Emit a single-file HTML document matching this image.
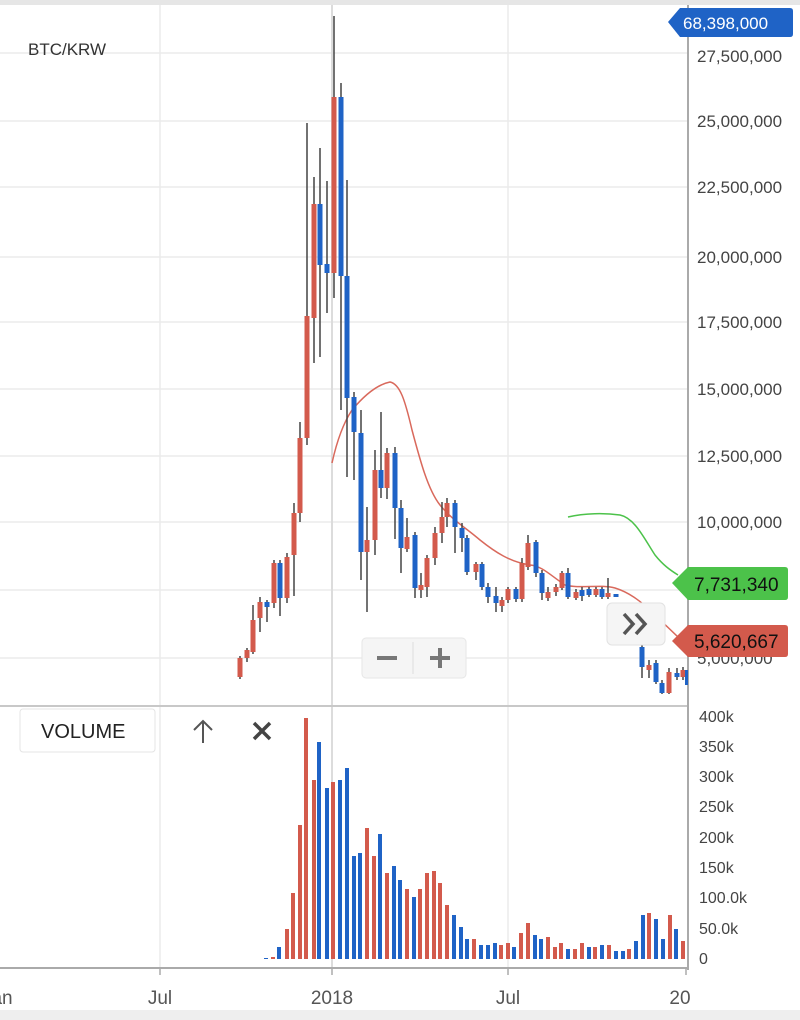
<!DOCTYPE html>
<html><head><meta charset="utf-8"><style>
html,body{margin:0;padding:0;background:#fff;}
body{width:800px;height:1020px;overflow:hidden;position:relative;font-family:"Liberation Sans",sans-serif;}
</style></head><body>
<svg width="800" height="1020" viewBox="0 0 800 1020" xmlns="http://www.w3.org/2000/svg" style="position:absolute;left:0;top:0">
<rect x="0" y="0" width="800" height="5" fill="#e6e6e6"/>
<rect x="0" y="1010" width="800" height="10" fill="#eeeeee"/>
<g stroke="#ebebeb" stroke-width="1.5">
<line x1="0" y1="53" x2="688" y2="53"/><line x1="0" y1="121" x2="688" y2="121"/><line x1="0" y1="187" x2="688" y2="187"/>
<line x1="0" y1="257" x2="688" y2="257"/><line x1="0" y1="322" x2="688" y2="322"/><line x1="0" y1="389" x2="688" y2="389"/>
<line x1="0" y1="456" x2="688" y2="456"/><line x1="0" y1="522" x2="688" y2="522"/><line x1="0" y1="590" x2="688" y2="590"/>
<line x1="0" y1="658" x2="688" y2="658"/>
<line x1="160" y1="5" x2="160" y2="968"/><line x1="508" y1="5" x2="508" y2="968"/>
</g>
<line x1="332" y1="5" x2="332" y2="968" stroke="#dcdcdc" stroke-width="2"/>
<line x1="0" y1="706" x2="688" y2="706" stroke="#c8c8c8" stroke-width="2"/>
<line x1="0" y1="968" x2="688" y2="968" stroke="#aaa" stroke-width="2"/>
<line x1="688" y1="5" x2="688" y2="970" stroke="#aaa" stroke-width="2"/>
<g stroke="#aaa" stroke-width="1.5">
<line x1="160" y1="968" x2="160" y2="975"/><line x1="332" y1="968" x2="332" y2="975"/><line x1="508" y1="968" x2="508" y2="975"/><line x1="686" y1="968" x2="686" y2="975"/>
</g>
<text x="28" y="55" font-size="17" fill="#333">BTC/KRW</text>
<g font-size="17" fill="#444">
<text x="697" y="62">27,500,000</text><text x="697" y="127">25,000,000</text><text x="697" y="193">22,500,000</text>
<text x="697" y="263">20,000,000</text><text x="697" y="328">17,500,000</text><text x="697" y="395">15,000,000</text>
<text x="697" y="462">12,500,000</text><text x="697" y="528">10,000,000</text><text x="697" y="664">5,000,000</text>
</g>
<g font-size="16" fill="#444">
<text x="699" y="722">400k</text><text x="699" y="752">350k</text><text x="699" y="782">300k</text><text x="699" y="812">250k</text>
<text x="699" y="843">200k</text><text x="699" y="873">150k</text><text x="699" y="903">100.0k</text><text x="699" y="934">50.0k</text><text x="699" y="964">0</text>
</g>
<g font-size="19" fill="#555" text-anchor="middle">
<text x="2" y="1004">an</text><text x="160" y="1004">Jul</text><text x="332" y="1004">2018</text><text x="508" y="1004">Jul</text><text x="680" y="1004">20</text>
</g>
<!-- MA lines -->
<path d="M332,463 C336,445 342,425 352,410 C362,398 375,385 390,382 C400,384 405,400 412,430 C420,460 428,490 440,505 C452,520 465,527 480,540 C495,552 510,562 530,565 C542,566 550,575 565,585 C580,589 600,584 615,588 C628,592 640,600 655,615 L678,637" fill="none" stroke="#d9695c" stroke-width="1.5"/>
<path d="M568,517 C585,513 605,513 620,515 C635,518 645,540 655,555 C663,565 670,570 678,575" fill="none" stroke="#4cc24a" stroke-width="1.5"/>
<!-- candles -->
<g id="c" stroke="#444" stroke-width="1.5"></g>
<g stroke="#444" stroke-width="1.5">
<line x1="240" y1="656" x2="240" y2="679"/><line x1="247" y1="648" x2="247" y2="662"/><line x1="253" y1="605" x2="253" y2="654"/>
<line x1="260" y1="597" x2="260" y2="632"/><line x1="267" y1="600" x2="267" y2="622"/><line x1="274" y1="560" x2="274" y2="608"/>
<line x1="280" y1="560" x2="280" y2="616"/><line x1="287" y1="553" x2="287" y2="603"/><line x1="294" y1="503" x2="294" y2="596"/>
<line x1="300" y1="422" x2="300" y2="522"/><line x1="307" y1="123" x2="307" y2="445"/><line x1="314" y1="177" x2="314" y2="363"/>
<line x1="320" y1="148" x2="320" y2="357"/><line x1="327" y1="181" x2="327" y2="313"/><line x1="334" y1="16" x2="334" y2="298"/>
<line x1="341" y1="83" x2="341" y2="410"/><line x1="347" y1="180" x2="347" y2="477"/><line x1="354" y1="392" x2="354" y2="480"/>
<line x1="361" y1="410" x2="361" y2="580"/><line x1="367" y1="507" x2="367" y2="612"/><line x1="375" y1="450" x2="375" y2="555"/>
<line x1="381" y1="412" x2="381" y2="498"/><line x1="387" y1="448" x2="387" y2="499"/><line x1="395" y1="447" x2="395" y2="539"/>
<line x1="401" y1="500" x2="401" y2="573"/><line x1="407" y1="518" x2="407" y2="552"/><line x1="415" y1="532" x2="415" y2="598"/>
<line x1="421" y1="573" x2="421" y2="598"/><line x1="427" y1="555" x2="427" y2="597"/><line x1="435" y1="527" x2="435" y2="565"/>
<line x1="442" y1="502" x2="442" y2="543"/><line x1="447" y1="498" x2="447" y2="527"/><line x1="455" y1="500" x2="455" y2="553"/>
<line x1="462" y1="523" x2="462" y2="552"/><line x1="467" y1="535" x2="467" y2="575"/><line x1="476" y1="562" x2="476" y2="580"/>
<line x1="482" y1="562" x2="482" y2="590"/><line x1="488" y1="583" x2="488" y2="603"/><line x1="496" y1="587" x2="496" y2="612"/>
<line x1="502" y1="597" x2="502" y2="612"/><line x1="508" y1="587" x2="508" y2="603"/><line x1="516" y1="587" x2="516" y2="602"/>
<line x1="522" y1="558" x2="522" y2="602"/><line x1="528" y1="535" x2="528" y2="570"/><line x1="536" y1="540" x2="536" y2="577"/>
<line x1="542" y1="570" x2="542" y2="600"/><line x1="548" y1="587" x2="548" y2="601"/><line x1="556" y1="584" x2="556" y2="596"/>
<line x1="562" y1="571" x2="562" y2="590"/><line x1="568" y1="568" x2="568" y2="599"/><line x1="576" y1="589" x2="576" y2="600"/>
<line x1="582" y1="587" x2="582" y2="601"/><line x1="589" y1="587" x2="589" y2="597"/><line x1="596" y1="587" x2="596" y2="597"/>
<line x1="602" y1="587" x2="602" y2="599"/><line x1="608" y1="578" x2="608" y2="599"/>
<line x1="642" y1="640" x2="642" y2="678"/><line x1="649" y1="660" x2="649" y2="678"/><line x1="656" y1="660" x2="656" y2="684"/>
<line x1="662" y1="680" x2="662" y2="694"/><line x1="669" y1="668" x2="669" y2="694"/><line x1="677" y1="668" x2="677" y2="680"/>
<line x1="683" y1="667" x2="683" y2="680"/>
</g>
<g fill="#d35a4c">
<rect x="237.5" y="658" width="5" height="19"/><rect x="244.5" y="650" width="5" height="8"/><rect x="250.5" y="620" width="5" height="32"/>
<rect x="257.5" y="602" width="5" height="16"/><rect x="271.5" y="563" width="5" height="40"/><rect x="284.5" y="557" width="5" height="41"/>
<rect x="291.5" y="513" width="5" height="42"/><rect x="297.5" y="438" width="5" height="75"/><rect x="304.5" y="316" width="5" height="122"/>
<rect x="311.5" y="204" width="5" height="114"/><rect x="331.5" y="97" width="5" height="176"/><rect x="364.5" y="540" width="5" height="12"/>
<rect x="372.5" y="470" width="5" height="70"/><rect x="384.5" y="453" width="5" height="35"/><rect x="404.5" y="537" width="5" height="12"/>
<rect x="418.5" y="585" width="5" height="5"/><rect x="424.5" y="558" width="5" height="29"/><rect x="432.5" y="533" width="5" height="25"/>
<rect x="439.5" y="517" width="5" height="16"/><rect x="444.5" y="503" width="5" height="14"/><rect x="473.5" y="564" width="5" height="8"/>
<rect x="499.5" y="600" width="5" height="6"/><rect x="505.5" y="589" width="5" height="11"/><rect x="519.5" y="563" width="5" height="36"/>
<rect x="525.5" y="543" width="5" height="24"/><rect x="545.5" y="592" width="5" height="6"/><rect x="553.5" y="587" width="5" height="5"/>
<rect x="559.5" y="573" width="5" height="15"/><rect x="573.5" y="592" width="5" height="6"/><rect x="593.5" y="589" width="5" height="6"/>
<rect x="605.5" y="593" width="5" height="4"/><rect x="646.5" y="665" width="5" height="5"/><rect x="666.5" y="672" width="5" height="21"/>
<rect x="680.5" y="670" width="5" height="7"/>
</g>
<g fill="#1f63c6">
<rect x="264.5" y="602" width="5" height="5"/><rect x="277.5" y="563" width="5" height="35"/><rect x="317.5" y="204" width="5" height="61"/>
<rect x="324.5" y="264" width="5" height="9"/><rect x="338.5" y="97" width="5" height="179"/><rect x="344.5" y="276" width="5" height="122"/>
<rect x="351.5" y="397" width="5" height="35"/><rect x="358.5" y="433" width="5" height="119"/><rect x="378.5" y="470" width="5" height="18"/>
<rect x="392.5" y="453" width="5" height="55"/><rect x="398.5" y="508" width="5" height="40"/><rect x="412.5" y="535" width="5" height="53"/>
<rect x="452.5" y="503" width="5" height="24"/><rect x="459.5" y="528" width="5" height="10"/><rect x="464.5" y="538" width="5" height="34"/>
<rect x="479.5" y="564" width="5" height="23"/><rect x="485.5" y="587" width="5" height="10"/><rect x="493.5" y="596" width="5" height="7"/>
<rect x="513.5" y="589" width="5" height="10"/><rect x="533.5" y="542" width="5" height="31"/><rect x="539.5" y="573" width="5" height="20"/>
<rect x="565.5" y="573" width="5" height="24"/><rect x="579.5" y="590" width="5" height="6"/><rect x="586.5" y="589" width="5" height="6"/>
<rect x="599.5" y="589" width="5" height="8"/><rect x="613.5" y="594" width="5" height="3"/><rect x="639.5" y="647" width="5" height="20"/>
<rect x="653.5" y="663" width="5" height="19"/><rect x="659.5" y="683" width="5" height="10"/><rect x="674.5" y="673" width="5" height="4"/>
<rect x="685" y="670" width="3" height="15"/>
</g>
<!-- volume -->
<g fill="#d35a4c">
<rect x="271" y="957" width="4" height="2"/><rect x="285" y="929" width="4" height="30"/><rect x="291" y="893" width="4" height="66"/>
<rect x="298" y="825" width="4" height="134"/><rect x="304" y="718" width="4" height="241"/><rect x="312" y="780" width="4" height="179"/>
<rect x="331" y="782" width="4" height="177"/><rect x="365" y="828" width="4" height="131"/><rect x="372" y="856" width="4" height="103"/>
<rect x="385" y="873" width="4" height="86"/><rect x="405" y="889" width="4" height="70"/><rect x="418" y="889" width="4" height="70"/>
<rect x="425" y="873" width="4" height="86"/><rect x="432" y="871" width="4" height="88"/><rect x="438" y="883" width="4" height="76"/>
<rect x="445" y="905" width="4" height="54"/><rect x="472" y="939" width="4" height="20"/><rect x="499" y="945" width="4" height="14"/>
<rect x="506" y="943" width="4" height="16"/><rect x="519" y="933" width="4" height="26"/><rect x="526" y="923" width="4" height="36"/>
<rect x="546" y="937" width="4" height="22"/><rect x="553" y="947" width="4" height="12"/><rect x="559" y="943" width="4" height="16"/>
<rect x="573" y="949" width="4" height="10"/><rect x="580" y="943" width="4" height="16"/><rect x="593" y="947" width="4" height="12"/>
<rect x="607" y="945" width="4" height="14"/><rect x="627" y="949" width="4" height="10"/><rect x="647" y="913" width="4" height="46"/>
<rect x="668" y="915" width="4" height="44"/><rect x="681" y="941" width="4" height="18"/>
</g>
<g fill="#1f63c6">
<rect x="264" y="958" width="4" height="1"/><rect x="277" y="947" width="4" height="12"/><rect x="317" y="742" width="4" height="217"/>
<rect x="325" y="788" width="4" height="171"/><rect x="338" y="780" width="4" height="179"/><rect x="345" y="768" width="4" height="191"/>
<rect x="352" y="856" width="4" height="103"/><rect x="358" y="853" width="4" height="106"/><rect x="378" y="834" width="4" height="125"/>
<rect x="392" y="866" width="4" height="93"/><rect x="398" y="880" width="4" height="79"/><rect x="412" y="897" width="4" height="62"/>
<rect x="452" y="915" width="4" height="44"/><rect x="459" y="927" width="4" height="32"/><rect x="465" y="939" width="4" height="20"/>
<rect x="479" y="945" width="4" height="14"/><rect x="486" y="945" width="4" height="14"/><rect x="493" y="943" width="4" height="16"/>
<rect x="512" y="947" width="4" height="12"/><rect x="533" y="935" width="4" height="24"/><rect x="539" y="939" width="4" height="20"/>
<rect x="566" y="949" width="4" height="10"/><rect x="587" y="947" width="4" height="12"/><rect x="600" y="945" width="4" height="14"/>
<rect x="614" y="951" width="4" height="8"/><rect x="621" y="951" width="4" height="8"/><rect x="634" y="941" width="4" height="18"/>
<rect x="641" y="915" width="4" height="44"/><rect x="654" y="919" width="4" height="40"/><rect x="661" y="939" width="4" height="20"/>
<rect x="674" y="929" width="4" height="30"/>
</g>
<!-- badges -->
<path d="M668,22 L680,8 L790,8 Q793,8 793,11 L793,34 Q793,37 790,37 L680,37 Z" fill="#1f63c6"/>
<text x="683" y="29" font-size="17" fill="#fff">68,398,000</text>
<path d="M672,583 L688,567 L785,567 Q788,567 788,570 L788,597 Q788,600 785,600 L688,600 Z" fill="#4cc24a"/>
<text x="694" y="591" font-size="19" fill="#111">7,731,340</text>
<path d="M672,641 L688,625 L785,625 Q788,625 788,628 L788,654 Q788,657 785,657 L688,657 Z" fill="#d35a4c"/>
<text x="694" y="648" font-size="19" fill="#111">5,620,667</text>
<!-- buttons -->
<rect x="607" y="603" width="58" height="42" rx="5" fill="#f5f5f5" stroke="#e2e2e2"/>
<path d="M624,614 L633,624 L624,634 M636,614 L645,624 L636,634" fill="none" stroke="#555" stroke-width="3.5"/>
<rect x="362" y="638" width="104" height="40" rx="4" fill="#f5f5f5" stroke="#e6e6e6"/>
<line x1="413" y1="642" x2="413" y2="674" stroke="#ddd"/>
<rect x="377" y="656" width="20" height="4" fill="#777"/>
<rect x="430" y="656" width="20" height="4" fill="#777"/><rect x="438" y="648" width="4" height="20" fill="#777"/>
<rect x="20" y="709" width="135" height="43" rx="3" fill="#fff" stroke="#e4e4e4"/>
<text x="41" y="738" font-size="20" fill="#222">VOLUME</text>
<path d="M203,743 L203,721 M194,730 L203,721 L212,730" fill="none" stroke="#555" stroke-width="2"/>
<path d="M254,723 L270,739 M270,723 L254,739" stroke="#444" stroke-width="3.5"/>
</svg>
</body></html>
